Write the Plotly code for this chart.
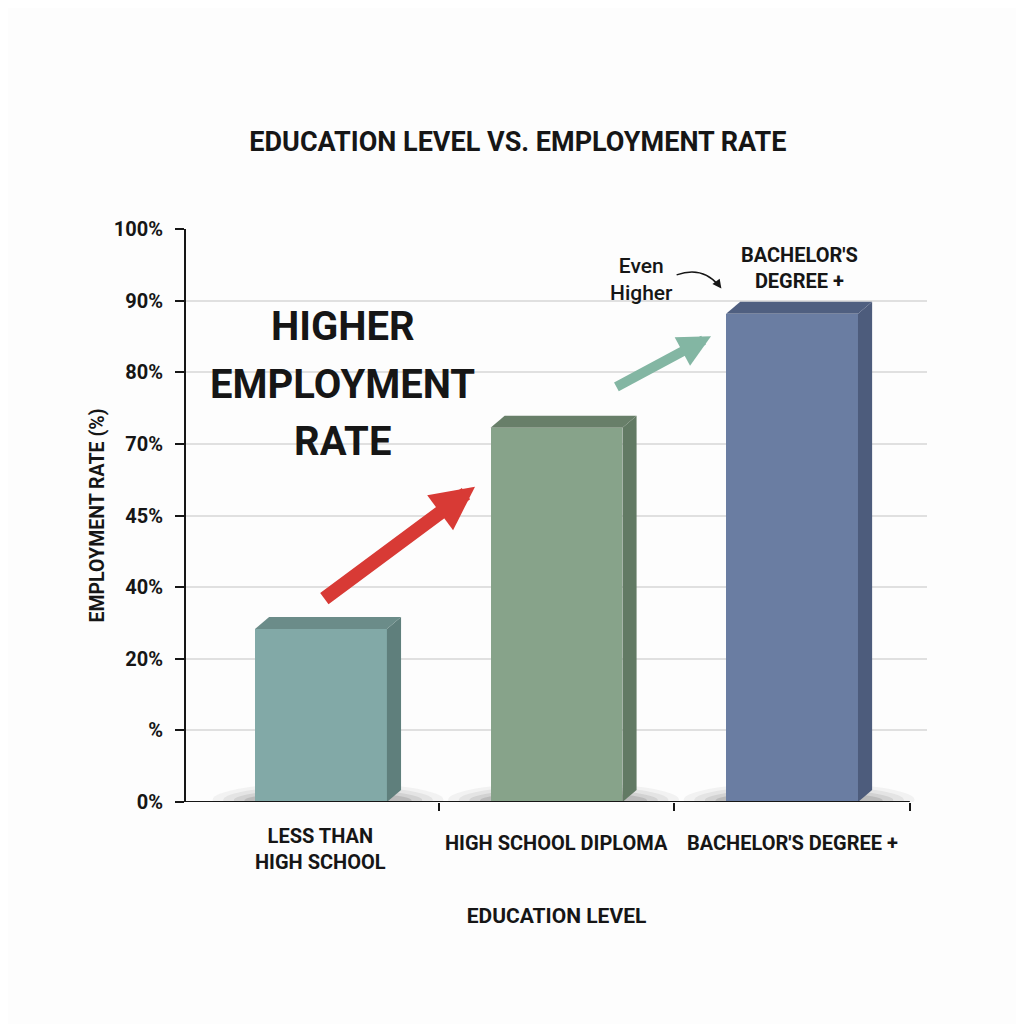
"""Education level vs. employment rate — 3D-look bar chart in Plotly."""

import plotly.graph_objects as go

# ---------------------------------------------------------------------------
# Data
# ---------------------------------------------------------------------------
categories = ["LESS THAN<br>HIGH SCHOOL", "HIGH SCHOOL DIPLOMA", "BACHELOR'S DEGREE +"]
employment = [30.2, 65.3, 85.2]

y_tickvals = [0, 12.5, 25, 37.5, 50, 62.5, 75, 87.5, 100]
y_ticktext = ["0%", "%", "20%", "40%", "45%", "70%", "80%", "90%", "100%"]

FRONT = ["#82a9a7", "#87a38a", "#6a7da2"]
TOP = ["#6b8c89", "#687f69", "#4f5f80"]
SIDE = ["#5f7f7c", "#627a64", "#4d5c7c"]

FONT = "Roboto, Liberation Sans, sans-serif"
INK = "#161616"

BAR_W = 0.56
DEPTH_X = 0.06   # depth of the fake 3D box, x units
DEPTH_Y = 2.1    # depth of the fake 3D box, y units
X_RANGE = [-0.573, 2.573]

x_pos = list(range(len(categories)))

fig = go.Figure()

# soft shadows under the bars (stacked translucent ellipses)
for x in x_pos:
    for k, alpha in enumerate([0.06, 0.08, 0.11, 0.15]):
        spread = 0.46 - k * 0.045
        fig.add_shape(
            type="circle",
            xref="x", yref="y",
            x0=x - spread, x1=x + spread + 0.06,
            y0=-2.6 + k * 0.45, y1=3.4 - k * 0.55,
            fillcolor=f"rgba(60,60,60,{alpha})",
            line_width=0,
            layer="below",
        )

# front faces
fig.add_trace(
    go.Bar(
        x=x_pos,
        y=employment,
        width=BAR_W,
        marker=dict(color=FRONT, line=dict(width=0)),
        hoverinfo="skip",
        showlegend=False,
    )
)

# side and top faces
for x, v, top_c, side_c in zip(x_pos, employment, TOP, SIDE):
    left, right = x - BAR_W / 2, x + BAR_W / 2
    fig.add_trace(
        go.Scatter(
            x=[right, right + DEPTH_X, right + DEPTH_X, right, right],
            y=[0, DEPTH_Y, v + DEPTH_Y, v, 0],
            fill="toself",
            fillcolor=side_c,
            mode="none",
            hoverinfo="skip",
            showlegend=False,
        )
    )
    fig.add_trace(
        go.Scatter(
            x=[left, right, right + DEPTH_X, left + DEPTH_X, left],
            y=[v, v, v + DEPTH_Y, v + DEPTH_Y, v],
            fill="toself",
            fillcolor=top_c,
            mode="none",
            hoverinfo="skip",
            showlegend=False,
        )
    )

# x-axis baseline (stops at the last category boundary)
fig.add_shape(
    type="line", xref="x", yref="y",
    x0=X_RANGE[0], x1=2.5, y0=0, y1=0,
    line=dict(color=INK, width=2),
)

# category labels, vertically centred under each bar
for x, label in zip(x_pos, categories):
    n_lines = label.count("<br>") + 1
    fig.add_annotation(
        x=x, y=0, xref="x", yref="y",
        text=label, showarrow=False,
        yanchor="middle", yshift=-41 - 6 * (n_lines - 1),
        font=dict(family=FONT, size=20, color=INK, weight="bold"),
    )

# ---------------------------------------------------------------------------
# Callouts
# ---------------------------------------------------------------------------
for text, y in [("HIGHER", 82.9), ("EMPLOYMENT", 72.9), ("RATE", 63.0)]:
    fig.add_annotation(
        x=0.093, y=y, text=text, showarrow=False,
        font=dict(family=FONT, size=40, color=INK, weight="bold"),
    )

# red arrow
fig.add_annotation(
    x=0.654, y=55.0, ax=0.008, ay=35.3,
    xref="x", yref="y", axref="x", ayref="y",
    text="", showarrow=True,
    arrowhead=2, arrowsize=0.62, arrowwidth=14, arrowcolor="#d83a35",
)

# teal arrow
fig.add_annotation(
    x=1.656, y=81.3, ax=1.248, ay=72.3,
    xref="x", yref="y", axref="x", ayref="y",
    text="", showarrow=True,
    arrowhead=2, arrowsize=0.65, arrowwidth=10, arrowcolor="#83b6a3",
)

fig.add_annotation(
    x=1.36, y=91.2, text="Even<br>Higher", showarrow=False,
    font=dict(family=FONT, size=21, color=INK, weight=500),
)
# small curved pointer from "Even Higher" toward the last bar
fig.add_shape(
    type="path",
    path="M 1.51 92.0 Q 1.62 93.6 1.69 90.1",
    xref="x", yref="y",
    line=dict(color=INK, width=1.5),
)
fig.add_annotation(
    x=1.70, y=89.6, ax=1.675, ay=91.0,
    xref="x", yref="y", axref="x", ayref="y",
    text="", showarrow=True,
    arrowhead=2, arrowsize=1.2, arrowwidth=1.5, arrowcolor=INK,
)

fig.add_annotation(
    x=2.03, y=93.2, text="BACHELOR'S<br>DEGREE +", showarrow=False,
    font=dict(family=FONT, size=20, color=INK, weight="bold"),
)

# ---------------------------------------------------------------------------
# Layout
# ---------------------------------------------------------------------------
fig.update_layout(
    width=1024,
    height=1024,
    paper_bgcolor="#fdfdfd",
    plot_bgcolor="rgba(0,0,0,0)",
    margin=dict(l=178, r=105, t=221, b=230),
    title=dict(
        text="EDUCATION LEVEL VS. EMPLOYMENT RATE",
        x=0.498, xanchor="center", y=0.870, yanchor="middle",
        font=dict(family=FONT, size=27, color=INK, weight="bold"),
    ),
    bargap=0,
    xaxis=dict(
        range=X_RANGE,
        tickvals=x_pos,
        showticklabels=False,
        ticks="",
        showline=False,
        showgrid=False, zeroline=False,
        minor=dict(tickvals=[0.5, 1.5, 2.5], ticks="outside", ticklen=8,
                   tickcolor=INK, tickwidth=2),
        title=dict(
            text="EDUCATION LEVEL",
            font=dict(family=FONT, size=21, color=INK, weight="bold"),
            standoff=106,
        ),
    ),
    yaxis=dict(
        range=[0, 100],
        tickvals=y_tickvals,
        ticktext=y_ticktext,
        ticks="outside", ticklen=9, tickcolor=INK, tickwidth=2,
        ticklabelstandoff=8,
        tickfont=dict(family=FONT, size=20, color=INK, weight="bold"),
        showline=True, linecolor=INK, linewidth=2,
        showgrid=True, gridcolor="#e0e0e0", gridwidth=1.5,
        zeroline=False,
        title=dict(
            text="EMPLOYMENT RATE (%)",
            font=dict(family=FONT, size=19.5, color=INK, weight="bold"),
            standoff=4,
        ),
    ),
)

fig.write_html("out.html")
